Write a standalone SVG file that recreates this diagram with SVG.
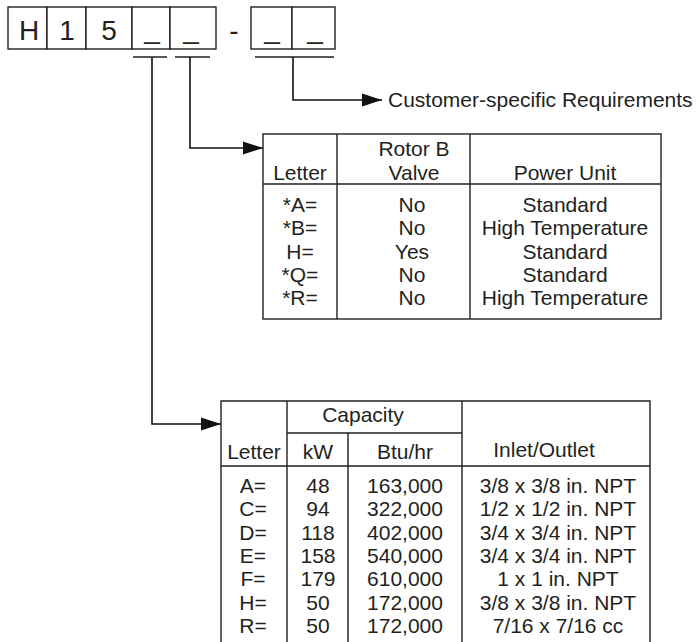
<svg xmlns="http://www.w3.org/2000/svg" width="696" height="642" viewBox="0 0 696 642">
<defs>
<marker id="arr" markerUnits="userSpaceOnUse" markerWidth="22" markerHeight="14" refX="20" refY="7" orient="auto"><path d="M0,0.5 L20,7 L0,13.5 Z" fill="#111"/></marker>
<style>
text{font-family:"Liberation Sans",Arial,Helvetica,sans-serif;fill:#231f20;font-size:21px;text-anchor:middle}
.big{font-size:28px}
.box{fill:#fff;stroke:#231f20;stroke-width:1.4}
.ln{stroke:#231f20;stroke-width:1.4;fill:none}
.con{stroke:#111;stroke-width:1.6;fill:none}
.bar{stroke:#231f20;stroke-width:1.3;fill:none}
</style>
</defs>
<rect width="696" height="642" fill="#fff"/>

<g id="code">
<rect class="box" x="8" y="7" width="39" height="42"/>
<rect class="box" x="47" y="7" width="39" height="42"/>
<rect class="box" x="86" y="7" width="46" height="42"/>
<rect class="box" x="132" y="7" width="38" height="42"/>
<rect class="box" x="170" y="7" width="46" height="42"/>
<rect class="box" x="251" y="7" width="41" height="42"/>
<rect class="box" x="292" y="7" width="43" height="42"/>
<text class="big" x="29" y="40">H</text>
<text class="big" x="67" y="40">1</text>
<text class="big" x="109" y="40">5</text>
<text class="big" x="152" y="38">_</text>
<text class="big" x="191" y="38">_</text>
<text class="big" x="234" y="40">-</text>
<text class="big" x="272" y="38">_</text>
<text class="big" x="315" y="38">_</text>
</g>

<g id="connectors">
<path class="bar" d="M133,57 H167 M175,57 H210 M255,57 H334"/>
<path class="con" d="M152,57 V424 H221" marker-end="url(#arr)"/>
<path class="con" d="M190,57 V148 H263" marker-end="url(#arr)"/>
<path class="con" d="M293,57 V100 H382" marker-end="url(#arr)"/>
</g>

<g id="customer">
<text x="388" y="107" style="text-anchor:start">Customer-specific Requirements</text>
</g>

<g id="table-rotor">
<rect class="ln" x="263" y="134" width="398" height="185"/>
<path class="ln" d="M263,184 H661 M337,134 V319 M470,134 V319"/>
<text x="300" y="180">Letter</text>
<text x="414" y="156">Rotor B</text>
<text x="414" y="180">Valve</text>
<text x="565" y="180">Power Unit</text>
<text x="300" y="212">*A=</text>
<text x="300" y="235.3">*B=</text>
<text x="300" y="258.6">H=</text>
<text x="300" y="282">*Q=</text>
<text x="300" y="305">*R=</text>
<text x="412" y="212">No</text>
<text x="412" y="235.3">No</text>
<text x="412" y="258.6">Yes</text>
<text x="412" y="282">No</text>
<text x="412" y="305">No</text>
<text x="565" y="212">Standard</text>
<text x="565" y="235.3">High Temperature</text>
<text x="565" y="258.6">Standard</text>
<text x="565" y="282">Standard</text>
<text x="565" y="305">High Temperature</text>
</g>

<g id="table-capacity">
<path class="ln" d="M221,650 V401 H650 V650 M287,401 V650 M348,433 V650 M462,401 V650 M287,433 H462 M221,466 H650"/>
<text x="363" y="422">Capacity</text>
<text x="254" y="459">Letter</text>
<text x="318" y="459">kW</text>
<text x="405" y="459">Btu/hr</text>
<text x="544" y="457">Inlet/Outlet</text>
<text x="253" y="493">A=</text>
<text x="253" y="516.3">C=</text>
<text x="253" y="539.6">D=</text>
<text x="253" y="562.9">E=</text>
<text x="253" y="586.2">F=</text>
<text x="253" y="609.5">H=</text>
<text x="253" y="632.8">R=</text>
<text x="318" y="493">48</text>
<text x="318" y="516.3">94</text>
<text x="318" y="539.6">118</text>
<text x="318" y="562.9">158</text>
<text x="318" y="586.2">179</text>
<text x="318" y="609.5">50</text>
<text x="318" y="632.8">50</text>
<text x="405" y="493">163,000</text>
<text x="405" y="516.3">322,000</text>
<text x="405" y="539.6">402,000</text>
<text x="405" y="562.9">540,000</text>
<text x="405" y="586.2">610,000</text>
<text x="405" y="609.5">172,000</text>
<text x="405" y="632.8">172,000</text>
<text x="558" y="493">3/8 x 3/8 in. NPT</text>
<text x="558" y="516.3">1/2 x 1/2 in. NPT</text>
<text x="558" y="539.6">3/4 x 3/4 in. NPT</text>
<text x="558" y="562.9">3/4 x 3/4 in. NPT</text>
<text x="558" y="586.2">1 x 1 in. NPT</text>
<text x="558" y="609.5">3/8 x 3/8 in. NPT</text>
<text x="558" y="632.8">7/16 x 7/16 cc</text>
</g>
</svg>
